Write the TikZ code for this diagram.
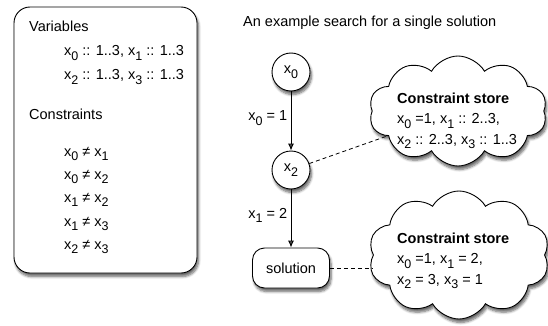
\documentclass[tikz,border=0pt]{standalone}
\usepackage{fontspec}
\setmainfont{Liberation Sans}
\usetikzlibrary{arrows.meta,shapes.symbols,shadows.blur}
\newcommand{\sx}[1]{x\raisebox{-4.5pt}{\fontsize{12.5}{12.5}\selectfont #1}}
\begin{document}
\begin{tikzpicture}[x=1pt,y=-1pt,
        every node/.style={font=\fontsize{14.5}{17}\selectfont},
        softshadow/.style={blur shadow={shadow xshift=1.5pt,shadow yshift=-3.5pt,
            shadow blur radius=2.5pt,shadow blur steps=6,shadow opacity=60}},
        varnode/.style={circle,draw,fill=white,line width=0.9pt,minimum size=38pt,
            inner sep=0pt,softshadow},
        goal/.style={rectangle,rounded corners=12pt,draw,fill=white,line width=0.9pt,
            minimum width=77pt,minimum height=40pt,softshadow},
        store/.style={cloud,cloud puffs=10,cloud puff arc=120,cloud ignores aspect,
            draw,fill=white,line width=0.9pt,inner sep=0pt,softshadow},
        storetext/.style={align=left,anchor=north west,inner sep=0pt,
            font=\fontsize{14.5}{20.5}\selectfont},
        line/.style={anchor=base west,inner sep=0pt},
        edge/.style={-{Latex[length=7pt,width=6pt]},line width=0.9pt},
        link/.style={dash pattern=on 4pt off 3pt,line width=0.8pt}]
\useasboundingbox (0,0) rectangle (548,326);

% variables and constraints
\draw[line width=0.9pt,fill=white,rounded corners=16pt,softshadow] (14,7) rectangle (197,273);
\node[line] (vars) at (29,32) {Variables};
\node[line] (dom1) at (64,56) {\sx{0} :: 1..3, \sx{1} :: 1..3};
\node[line] (dom2) at (64,80) {\sx{2} :: 1..3, \sx{3} :: 1..3};
\node[line] (cons) at (29,119) {Constraints};
\node[line] (c1) at (64,156) {\sx{0} ≠ \sx{1}};
\node[line] (c2) at (64,179) {\sx{0} ≠ \sx{2}};
\node[line] (c3) at (64,202) {\sx{1} ≠ \sx{2}};
\node[line] (c4) at (64,226) {\sx{1} ≠ \sx{3}};
\node[line] (c5) at (64,249) {\sx{2} ≠ \sx{3}};

% search tree
\node[line] (title) at (243,27) {An example search for a single solution};
\node[varnode] (x0) at (291,72) {\sx{0}};
\node[varnode] (x2) at (291,170) {\sx{2}};
\node[goal] (sol) at (291,268) {solution};
\draw[edge] (x0) -- node[left,pos=0.45] {\sx{0} = 1} (x2);
\draw[edge] (x2) -- node[left,pos=0.45] {\sx{1} = 2} (sol);

% constraint stores
\node[store,minimum width=178pt,minimum height=110pt] (store1) at (458,111) {};
\node[storetext] (info1) at (397,92.4) {\textbf{Constraint store}\\
    \sx{0} =1, \sx{1} :: 2..3,\\ \sx{2} :: 2..3, \sx{3} :: 1..3};
\node[store,minimum width=181pt,minimum height=128pt] (store2) at (459,255) {};
\node[storetext] (info2) at (397,232.4) {\textbf{Constraint store}\\
    \sx{0} =1, \sx{1} = 2,\\ \sx{2} = 3, \sx{3} = 1};
\draw[link] (x2) -- (store1);
\draw[link] (sol) -- (sol -| store2.west);

\end{tikzpicture}
\end{document}
